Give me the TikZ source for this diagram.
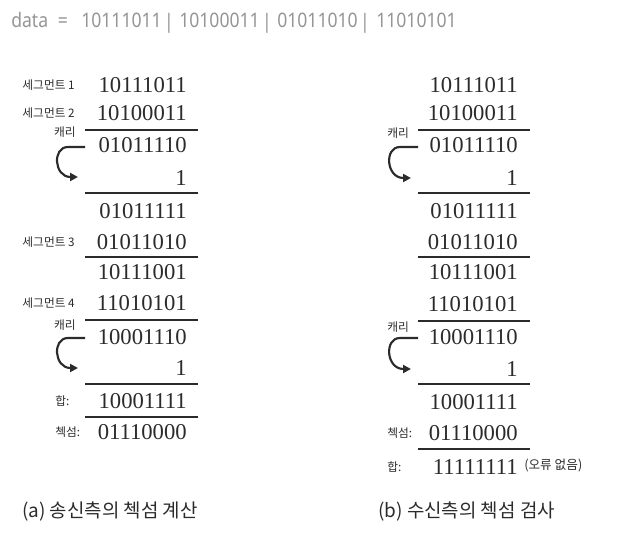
\documentclass[tikz,border=0pt]{standalone}
\usepackage{fontspec}
\setmainfont{Liberation Serif}
\newfontfamily\kr{Noto Sans CJK KR}
\newfontfamily\hdr[FakeStretch=0.88]{Noto Sans}
\usetikzlibrary{arrows.meta}
\definecolor{ink}{HTML}{2B2B2B}
\definecolor{hdrgray}{HTML}{959595}
\begin{document}
\begin{tikzpicture}[x=0.75pt,y=-0.75pt,
  num/.style={anchor=east,inner sep=0pt,text=ink,font=\fontsize{17}{17}\selectfont},
  lab/.style={anchor=east,inner sep=0pt,text=ink,font=\kr\fontsize{8.8}{9}\selectfont},
  labw/.style={anchor=west,inner sep=0pt,text=ink,font=\kr\fontsize{8.8}{9}\selectfont},
  hd/.style={anchor=base west,inner sep=0pt,text=hdrgray,font=\hdr\fontsize{15}{16}\selectfont},
  hdc/.style={anchor=base,inner sep=0pt,text=hdrgray,font=\hdr\fontsize{15}{16}\selectfont},
  rule/.style={line width=1.6pt,draw=ink},
  carry/.style={line width=1.6pt,draw=ink,-{Triangle[length=6pt,width=6pt]}},
  captext/.style={anchor=west,inner sep=0pt,text=ink,font=\kr\fontsize{14.2}{15}\selectfont}]
\useasboundingbox (0,0) rectangle (617,535);
% ---------- header ----------
\node[hd] (hdata) at (11,28) {data};
\node[hdc] (heq) at (63,28) {=};
\node[hd] (hg1) at (81,28) {10111011};
\node[hdc] (hb1) at (169,29) {|};
\node[hd] (hg2) at (179,28) {10100011};
\node[hdc] (hb2) at (267,29) {|};
\node[hd] (hg3) at (277,28) {01011010};
\node[hdc] (hb3) at (365,29) {|};
\node[hd] (hg4) at (376,28) {11010101};
% ---------- left column ----------
\node[num] (a1) at (187,85) {10111011};
\node[num] (a2) at (187,113) {10100011};
\node[lab] (as1) at (75,85) {세그먼트 1};
\node[lab] (as2) at (75,113) {세그먼트 2};
\node[lab] (ac1) at (76,132) {캐리};
\coordinate (ar1a) at (85,130); \coordinate (ar1b) at (198,130);
\draw[rule] (ar1a) -- (ar1b);
\node[num] (a3) at (187,145) {01011110};
\node[num] (a4) at (187,178) {1};
\coordinate (aca) at (85,147); \coordinate (acb) at (78,177);
\draw[carry] (aca) -- (68,147) .. controls (52,147) and (54,177) .. (acb);
\coordinate (ar2a) at (85,193); \coordinate (ar2b) at (198,193);
\draw[rule] (ar2a) -- (ar2b);
\node[num] (a5) at (187,211) {01011111};
\node[num] (a6) at (187,242) {01011010};
\node[lab] (as3) at (75,242) {세그먼트 3};
\coordinate (ar3a) at (85,257); \coordinate (ar3b) at (198,257);
\draw[rule] (ar3a) -- (ar3b);
\node[num] (a7) at (187,272) {10111001};
\node[num] (a8) at (187,303) {11010101};
\node[lab] (as4) at (75,303) {세그먼트 4};
\node[lab] (ac2) at (76,325) {캐리};
\coordinate (ar4a) at (85,320); \coordinate (ar4b) at (198,320);
\draw[rule] (ar4a) -- (ar4b);
\node[num] (a9) at (187,337) {10001110};
\node[num] (a10) at (187,368) {1};
\coordinate (acc) at (85,338); \coordinate (acd) at (78,368);
\draw[carry] (acc) -- (68,338) .. controls (52,338) and (54,368) .. (acd);
\coordinate (ar5a) at (85,384); \coordinate (ar5b) at (198,384);
\draw[rule] (ar5a) -- (ar5b);
\node[num] (a11) at (187,401) {10001111};
\node[labw] (asum) at (55,401) {합:};
\coordinate (ar6a) at (85,417); \coordinate (ar6b) at (198,417);
\draw[rule] (ar6a) -- (ar6b);
\node[num] (a12) at (187,432) {01110000};
\node[labw] (achk) at (55,432) {첵섬:};
\node[captext] (capa) at (22,512) {(a) 송신측의 첵섬 계산};
% ---------- right column ----------
\node[num] (b1) at (518,85) {10111011};
\node[num] (b2) at (518,113) {10100011};
\node[labw] (bc1) at (387,133) {캐리};
\coordinate (br1a) at (418,130); \coordinate (br1b) at (530,130);
\draw[rule] (br1a) -- (br1b);
\node[num] (b3) at (518,145) {01011110};
\node[num] (b4) at (518,178) {1};
\coordinate (bca) at (418,147); \coordinate (bcb) at (411,178);
\draw[carry] (bca) -- (400,147) .. controls (384,147) and (386,178) .. (bcb);
\coordinate (br2a) at (418,193); \coordinate (br2b) at (530,193);
\draw[rule] (br2a) -- (br2b);
\node[num] (b5) at (518,211) {01011111};
\node[num] (b6) at (518,242) {01011010};
\coordinate (br3a) at (418,257); \coordinate (br3b) at (530,257);
\draw[rule] (br3a) -- (br3b);
\node[num] (b7) at (518,272) {10111001};
\node[num] (b8) at (518,304) {11010101};
\node[labw] (bc2) at (387,327) {캐리};
\coordinate (br4a) at (418,321); \coordinate (br4b) at (530,321);
\draw[rule] (br4a) -- (br4b);
\node[num] (b9) at (518,337) {10001110};
\node[num] (b10) at (518,369) {1};
\coordinate (bcc) at (418,338); \coordinate (bcd) at (411,369);
\draw[carry] (bcc) -- (400,338) .. controls (384,338) and (386,369) .. (bcd);
\coordinate (br5a) at (418,384); \coordinate (br5b) at (530,384);
\draw[rule] (br5a) -- (br5b);
\node[num] (b11) at (518,402) {10001111};
\node[num] (b12) at (518,433) {01110000};
\node[labw] (bchk) at (387,433) {첵섬:};
\coordinate (br6a) at (418,449); \coordinate (br6b) at (530,449);
\draw[rule] (br6a) -- (br6b);
\node[num] (b13) at (518,467) {11111111};
\node[labw] (bsum) at (387,467) {합:};
\node[labw,font=\kr\fontsize{9.5}{10}\selectfont] (bok) at (524,465) {(오류 없음)};
\node[captext] (capb) at (378,512) {(b) 수신측의 첵섬 검사};
\end{tikzpicture}
\end{document}
